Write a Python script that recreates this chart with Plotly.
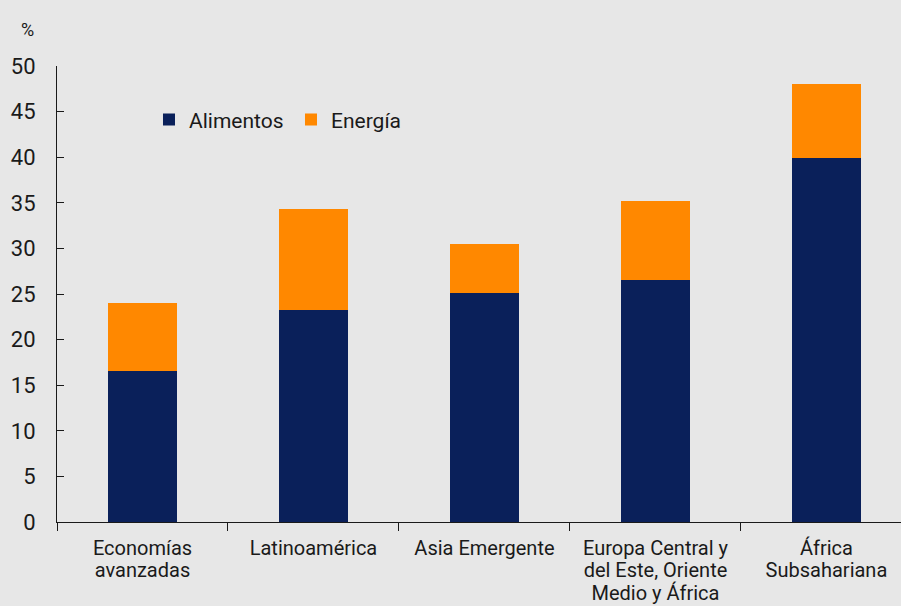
import plotly.graph_objects as go

# category labels, one list per printed line
label_line1 = ["Economías", "Latinoamérica", "Asia Emergente", "Europa Central y", "África"]
label_line2 = ["avanzadas", "", "", "del Este, Oriente", "Subsahariana"]
label_line3 = ["", "", "", "Medio y África", ""]

alimentos = [16.6, 23.2, 25.1, 26.5, 39.9]
energia_total = [24.0, 34.3, 30.5, 35.2, 48.0]
energia = [round(t - a, 1) for t, a in zip(energia_total, alimentos)]
y_ticks = [0, 5, 10, 15, 20, 25, 30, 35, 40, 45, 50]

NAVY = "#0a205a"
ORANGE = "#ff8800"
BG = "#e7e7e7"
INK = "#1a1a1a"
FONT = "Roboto"

x = list(range(len(label_line1)))
xr = [-0.5, 4.436]

fig = go.Figure()
fig.add_trace(go.Bar(x=x, y=alimentos, name="Alimentos", marker_color=NAVY,
                     marker_line_width=0, width=0.405))
fig.add_trace(go.Bar(x=x, y=energia, name="Energía", marker_color=ORANGE,
                     marker_line_width=0, width=0.405))
# empty traces so the overlay axes (boundary ticks, extra label lines) are drawn
for ax in ("x2", "x3", "x4"):
    fig.add_trace(go.Scatter(x=[None], y=[None], xaxis=ax, showlegend=False,
                             hoverinfo="skip"))

label_axis = dict(range=xr, tickmode="array", tickvals=x, ticks="",
                  showgrid=False, zeroline=False, showline=False,
                  automargin=False,
                  tickfont=dict(family=FONT, size=20, color=INK))

fig.update_layout(
    barmode="stack",
    width=901, height=606,
    paper_bgcolor=BG, plot_bgcolor=BG,
    margin=dict(l=57, r=0, t=66, b=84, autoexpand=False),
    font=dict(family=FONT, size=18, color=INK),
    showlegend=True,
    legend=dict(orientation="h", x=0.109, y=0.882, xanchor="left", yanchor="middle",
                bgcolor="rgba(0,0,0,0)", font=dict(size=21), itemwidth=30,
                traceorder="normal", entrywidth=97),
    xaxis=dict(label_axis, ticktext=label_line1, showline=True, linecolor=INK,
               linewidth=1, ticklabelstandoff=8),
    xaxis2=dict(range=xr, overlaying="x", anchor="y", side="bottom",
                tickmode="array", tickvals=[-0.5, 0.5, 1.5, 2.5, 3.5],
                ticktext=[""] * 5, ticks="outside", ticklen=8,
                tickcolor=INK, tickwidth=1, showline=False, automargin=False,
                showgrid=False, zeroline=False),
    xaxis3=dict(label_axis, ticktext=label_line2, overlaying="x", anchor="y",
                side="bottom", ticklabelstandoff=34),
    xaxis4=dict(label_axis, ticktext=label_line3, overlaying="x", anchor="y",
                side="bottom", ticklabelstandoff=57),
    yaxis=dict(range=[0, 50], tickmode="array", tickvals=y_ticks,
               ticks="inside", ticklen=7, tickcolor=INK,
               showline=True, linecolor=INK, linewidth=1, automargin=False,
               showgrid=False, zeroline=False, ticklabelstandoff=16,
               tickfont=dict(size=22)),
    annotations=[dict(text="%", xref="paper", yref="paper", x=-0.035, y=1.079,
                      xanchor="center", yanchor="middle", showarrow=False,
                      font=dict(size=18))],
)

fig.write_html("out.html")
